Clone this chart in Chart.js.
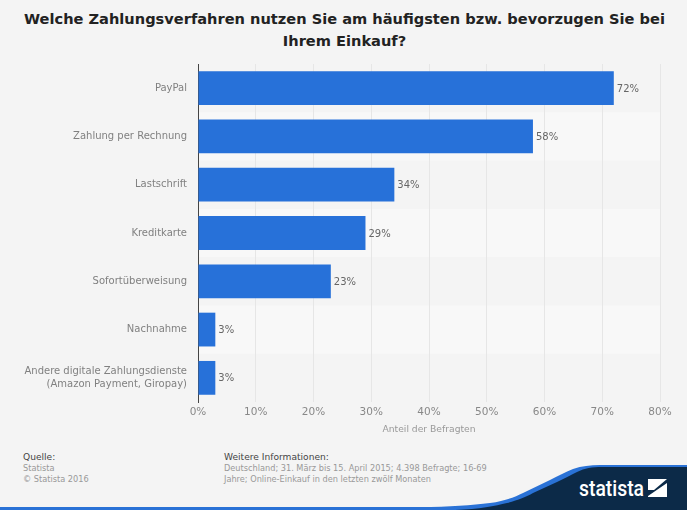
<!DOCTYPE html>
<html>
<head>
<meta charset="utf-8">
<script src="https://cdn.jsdelivr.net/npm/chart.js@4"></script>
<style>
  html, body { margin: 0; padding: 0; background: #f4f4f4; }
  #wrap { position: relative; width: 687px; height: 510px; overflow: hidden; font-family: "DejaVu Sans", sans-serif; }
  #wave { position: absolute; left: 0; top: 0; }
  canvas { position: absolute; left: 0; top: 0; }
  #title { position: absolute; left: 0; top: 8px; width: 689px; text-align: center; font-size: 14.6px; font-weight: bold; line-height: 22px; color: #222; }
  .note { position: absolute; top: 451px; font-size: 8.2px; line-height: 11px; color: #999; white-space: nowrap; }
  .note b { display: block; font-weight: normal; font-size: 9.1px; line-height: 12px; color: #444; }
</style>
</head>
<body>
<div id="wrap">
  <svg id="wave" width="687" height="510">
    <path d="M0 507 L420 507 C450 507 472 505 490 503 C505 501 515 497 523 493 L550 480 C558 476 565 472 573 469 C582 466 590 465 600 465 L687 465 L687 510 L0 510 Z" fill="#2a72d6"/>
    <path d="M455 510 C480 509 495 506 507 503 C518 500 526 497 533 493 L557 482 C565 478 571 475 577 472 C585 468 592 467 602 467 L687 467 L687 510 Z" fill="#0c2a48"/>
    <text x="579" y="496" font-family="Roboto, sans-serif" font-weight="500" font-size="22" fill="#fff" textLength="65" lengthAdjust="spacingAndGlyphs">statista</text>
    <path d="M648 479 H667 L654 490 H648 Z M667 483 V497 H648 V496 Z" fill="#fff"/>
  </svg>
  <div id="title">Welche Zahlungsverfahren nutzen Sie am häufigsten bzw. bevorzugen Sie bei<br>Ihrem Einkauf?</div>
  <div class="note" style="left:23px"><b>Quelle:</b>Statista<br>© Statista 2016</div>
  <div class="note" style="left:224px"><b>Weitere Informationen:</b>Deutschland; 31. März bis 15. April 2015; 4.398 Befragte; 16-69<br>Jahre; Online-Einkauf in den letzten zwölf Monaten</div>
  <canvas id="chart" width="687" height="510"></canvas>
</div>
<script>
const categories = ['PayPal', 'Zahlung per Rechnung', 'Lastschrift', 'Kreditkarte', 'Sofortüberweisung', 'Nachnahme',
  ['Andere digitale Zahlungsdienste', '(Amazon Payment, Giropay)']]
const shares = [72, 58, 34, 29, 23, 3, 3]
const axisTitle = 'Anteil der Befragten'

// every second row is a bit lighter
const rowBands = {
  id: 'rowBands',
  beforeDraw(chart) {
    const { ctx, chartArea, scales } = chart
    const step = scales.y.height / categories.length
    ctx.save()
    ctx.fillStyle = '#f8f8f8'
    categories.forEach((c, i) => {
      if (i % 2 == 1) ctx.fillRect(chartArea.left, chartArea.top + i * step, chartArea.width, step)
    })
    ctx.restore()
  }
}

const valueLabels = {
  id: 'valueLabels',
  afterDatasetsDraw(chart) {
    const { ctx } = chart
    ctx.save()
    ctx.font = '10px "DejaVu Sans"'
    ctx.fillStyle = '#666'
    ctx.textBaseline = 'middle'
    chart.getDatasetMeta(0).data.forEach((bar, i) => {
      ctx.fillText(shares[i] + '%', bar.x + 3, bar.y + 1)
    })
    ctx.restore()
  }
}

new Chart(document.getElementById('chart'), {
  type: 'bar',
  data: {
    labels: categories,
    datasets: [{
      data: shares,
      backgroundColor: '#2771d9',
      barPercentage: 0.7,
      categoryPercentage: 1
    }]
  },
  options: {
    indexAxis: 'y',
    responsive: false,
    animation: false,
    layout: { padding: { left: 0, right: 27, top: 64, bottom: 71 } },
    plugins: {
      legend: { display: false },
      tooltip: { enabled: false }
    },
    scales: {
      x: {
        min: 0,
        max: 80,
        afterFit(scale) { scale.height = 37 },
        grid: { color: '#e6e6e6', drawTicks: false },
        border: { display: false },
        ticks: {
          stepSize: 10,
          padding: 4,
          color: '#888',
          font: { family: '"DejaVu Sans"', size: 10.5 },
          maxRotation: 0,
          callback: v => v + '%'
        },
        title: {
          display: true,
          text: axisTitle,
          color: '#999',
          font: { family: '"DejaVu Sans"', size: 9.2 },
          padding: { top: 4 }
        }
      },
      y: {
        afterFit(scale) { scale.width = 198 },
        grid: { display: false, drawTicks: false },
        border: { color: '#444', width: 1 },
        ticks: {
          padding: 11,
          color: '#808080',
          autoSkip: false,
          font: { family: '"DejaVu Sans"', size: 10, lineHeight: 1.3 }
        }
      }
    }
  },
  plugins: [rowBands, valueLabels]
})
</script>
</body>
</html>
